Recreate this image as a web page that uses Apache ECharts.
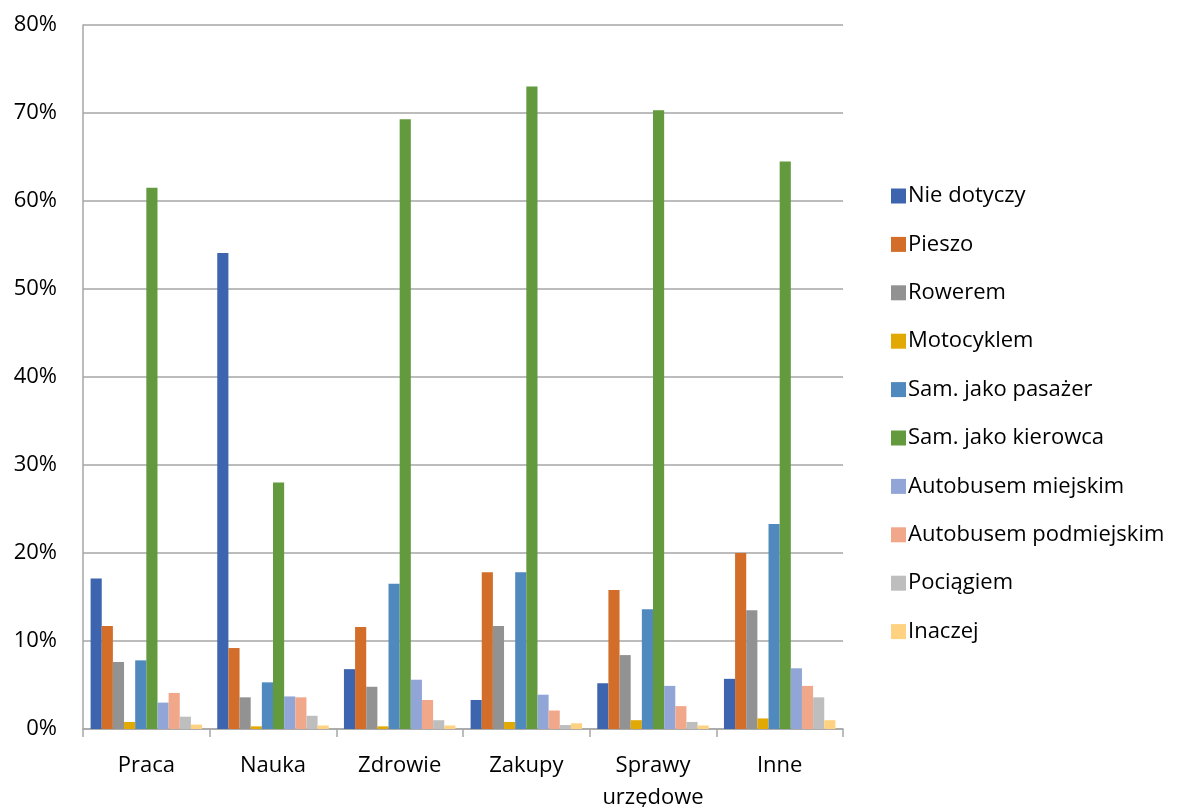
<!DOCTYPE html>
<html>
<head>
<meta charset="utf-8">
<script src="https://cdn.jsdelivr.net/npm/echarts@6/dist/echarts.min.js"></script>
<style>html,body{margin:0;padding:0;background:#fff}#c{width:1178px;height:807px}</style>
</head>
<body>
<div id="c"></div>
<script>
const categories = ['Praca', 'Nauka', 'Zdrowie', 'Zakupy', 'Sprawy\nurzędowe', 'Inne'];
const seriesNames = ['Nie dotyczy', 'Pieszo', 'Rowerem', 'Motocyklem', 'Sam. jako pasażer', 'Sam. jako kierowca', 'Autobusem miejskim', 'Autobusem podmiejskim', 'Pociągiem', 'Inaczej'];
const nieDotyczy = [17.1, 54.1, 6.8, 3.3, 5.2, 5.7];
const pieszo = [11.7, 9.2, 11.6, 17.8, 15.8, 20.0];
const rowerem = [7.6, 3.6, 4.8, 11.7, 8.4, 13.5];
const motocyklem = [0.8, 0.3, 0.3, 0.8, 1.0, 1.2];
const pasazer = [7.8, 5.3, 16.5, 17.8, 13.6, 23.3];
const kierowca = [61.5, 28.0, 69.3, 73.0, 70.3, 64.5];
const autobusMiejski = [3.0, 3.7, 5.6, 3.9, 4.9, 6.9];
const autobusPodmiejski = [4.1, 3.6, 3.3, 2.1, 2.6, 4.9];
const pociagiem = [1.4, 1.5, 1.0, 0.45, 0.8, 3.6];
const inaczej = [0.5, 0.4, 0.4, 0.65, 0.4, 1.0];
const yTicks = [0, 10, 20, 30, 40, 50, 60, 70, 80];
const colors = ['#3D64AE', '#D26D2A', '#929292', '#E2A803', '#4F89BE', '#639A3E', '#91A6D6', '#F1A78A', '#BEBEBE', '#FFD282'];
const allData = [nieDotyczy, pieszo, rowerem, motocyklem, pasazer, kierowca, autobusMiejski, autobusPodmiejski, pociagiem, inaczej];

const FONT = 'Open Sans';
const FS = 22;
const chart = echarts.init(document.getElementById('c'), null, {renderer: 'canvas'});
chart.setOption({
  animation: false,
  textStyle: {fontFamily: FONT},
  color: colors,
  grid: {left: 83, right: 335, top: 25, bottom: 78, containLabel: false, outerBoundsMode: 'none'},
  legend: {
    orient: 'vertical',
    left: 886,
    top: 179,
    itemWidth: 15,
    itemHeight: 15,
    itemGap: 24.4,
    icon: 'rect',
    textStyle: {fontFamily: FONT, fontSize: FS, lineHeight: 24, color: '#000', padding: [0, 0, 0, -3]},
    data: seriesNames
  },
  xAxis: {
    type: 'category',
    data: categories,
    axisLine: {show: true, lineStyle: {color: '#A6A6A6', width: 1.5}},
    axisTick: {show: true, length: 8, interval: 0, lineStyle: {color: '#A6A6A6', width: 1.5}},
    axisLabel: {fontFamily: FONT, fontSize: FS, color: '#000', margin: 21, lineHeight: 32, interval: 0}
  },
  yAxis: {
    type: 'value',
    min: 0,
    max: 80,
    interval: 10,
    axisLine: {show: true, lineStyle: {color: '#A6A6A6', width: 1.5}},
    axisTick: {show: false},
    splitLine: {show: true, lineStyle: {color: '#A6A6A6', width: 1.5}},
    axisLabel: {fontFamily: FONT, fontSize: FS, color: '#000', margin: 26, formatter: v => yTicks.includes(v) ? v + '%' : ''}
  },
  series: seriesNames.map((n, i) => ({
    name: n,
    type: 'bar',
    data: allData[i],
    barGap: '0%',
    barCategoryGap: '12%',
    itemStyle: {color: colors[i]}
  }))
});
</script>
</body>
</html>
